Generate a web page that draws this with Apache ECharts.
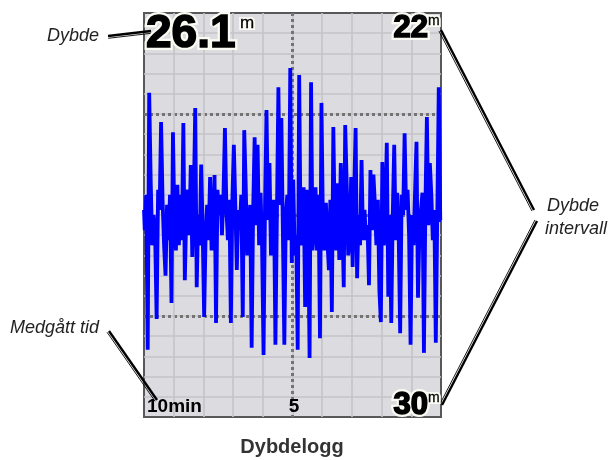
<!DOCTYPE html>
<html>
<head>
<meta charset="utf-8">
<title>Dybdelogg</title>
<script src="https://cdn.jsdelivr.net/npm/echarts@6/dist/echarts.min.js"></script>
<style>
  html, body { margin: 0; padding: 0; background: #ffffff; }
  #chart { width: 610px; height: 460px; }
</style>
</head>
<body>
<div id="chart"></div>
<script>
// Depth log samples (metres), oldest (10 min ago) on the left, newest on the right
const depthLog = [
  25.9, 26.3, 25.6, 28.67, 23.58, 25.3, 26.6, 26.0, 26.4, 28.06,
  25.5, 25.9, 24.16, 25.7, 26.6, 27.2, 25.8, 26.5, 25.6, 27.74,
  24.36, 26.2, 26.7, 25.4, 26.6, 25.6, 26.5, 24.18, 27.29, 25.9,
  25.5, 26.4, 25.01, 26.83, 25.7, 23.88, 27.43, 26.0, 26.6, 25.0,
  26.3, 28.02, 26.4, 25.8, 26.5, 25.25, 26.7, 26.2, 25.21, 28.14,
  25.5, 26.0, 25.6, 26.4, 25.6, 24.28, 25.9, 26.5, 25.7, 28.14,
  25.7, 24.61, 25.8, 27.09, 25.9, 26.3, 25.6, 28.02, 24.32, 25.41,
  26.8, 26.5, 25.8, 28.63, 25.9, 24.46, 26.2, 24.61, 26.6, 25.56,
  26.6, 28.77, 25.8, 23.92, 26.1, 24.97, 26.8, 26.4, 25.7, 28.57,
  26.0, 23.47, 25.8, 24.08, 26.3, 28.57, 26.0, 25.6, 26.5, 23.09,
  26.95, 25.3, 26.8, 26.4, 28.67, 23.23, 26.6, 25.9, 25.45, 27.82,
  25.5, 26.2, 28.83, 23.37, 26.7, 26.3, 25.45, 26.7, 25.6, 28.44,
  23.78, 26.2, 26.7, 25.76, 26.5, 27.09, 25.7, 27.92, 24.26, 26.3,
  26.7, 25.37, 26.89, 24.97, 26.0, 27.43, 24.22, 25.37, 26.8, 26.5,
  25.25, 27.03, 25.6, 24.28, 27.25, 26.0, 26.6, 24.91, 26.5, 25.9,
  26.5, 26.2, 27.39, 25.11, 26.3, 25.2, 25.8, 26.6, 25.7, 27.49,
  28.12, 24.95, 26.6, 26.0, 24.57, 27.62, 26.0, 28.14, 26.0, 24.61,
  26.5, 25.56, 26.4, 28.34, 25.6, 26.0, 24.38, 25.9, 25.5, 26.4,
  28.57, 26.0, 26.6, 25.56, 24.55, 27.64, 26.3, 25.9, 25.56, 28.73,
  25.8, 24.06, 26.2, 24.97, 25.6, 26.5, 25.9, 28.53, 26.0, 23.47,
  26.1
];
// Sample numbers along the time axis
const sampleNo = depthLog.map((_, i) => i);
// Displayed depth range (top, bottom) in metres
const depthRange = [22, 30];
// Elapsed-time axis: span in minutes and the labelled ticks
const timeSpan = [0, 10];
const timeTicks = { 10: '10min', 5: '5' };

const FONT = '"Liberation Sans", Arial, Helvetica, sans-serif';
const currentDepth = depthLog[depthLog.length - 1];

const chart = echarts.init(document.getElementById('chart'), null, { renderer: 'canvas' });

// Callout leader: a heavy stroke with a thin companion stroke just beside it
function leader(x1, y1, x2, y2) {
  const dx = x2 - x1, dy = y2 - y1, len = Math.hypot(dx, dy);
  // unit normal pointing to the lower-left side of the stroke
  let nx = -dy / len, ny = dx / len;
  if (ny < 0 || (ny === 0 && nx > 0)) { nx = -nx; ny = -ny; }
  if (nx > 0 && Math.abs(dy) > Math.abs(dx)) { nx = -nx; ny = -ny; }
  const off = 2.3;
  return [
    { type: 'line', z: 50, shape: { x1, y1, x2, y2 },
      style: { stroke: '#000', lineWidth: 2.4 } },
    { type: 'line', z: 50,
      shape: { x1: x1 + nx * off, y1: y1 + ny * off, x2: x2 + nx * off, y2: y2 + ny * off },
      style: { stroke: '#000', lineWidth: 0.9 } }
  ];
}

function label(text, x, y, size, opts, z) {
  return {
    type: 'text', z: z || 60, x, y,
    style: Object.assign({
      text, fontFamily: FONT, fontSize: size, fill: '#000',
      align: 'left', verticalAlign: 'middle'
    }, opts || {})
  };
}

// Heavy readout text: a pale halo underneath, then the glyphs thickened with their own stroke
function readout(text, x, y, size, align, heavy) {
  const base = { fontWeight: heavy ? 'bold' : 'normal', align: align || 'left' };
  return [
    label(text, x, y, size, Object.assign({ fill: '#fbfbf4', stroke: '#fbfbf4', lineWidth: heavy ? 6 : 4 }, base), 58),
    label(text, x, y, size, Object.assign({ fill: '#000', stroke: '#000', lineWidth: heavy ? 1.6 : 0.3 }, base), 60)
  ];
}

const option = {
  animation: false,
  backgroundColor: '#ffffff',
  grid: {
    left: 144, top: 13, right: 169, bottom: 43,
    show: true, backgroundColor: '#dcdbe0',
    borderColor: '#585858', borderWidth: 2
  },
  xAxis: [
    { type: 'category', data: sampleNo, boundaryGap: false, show: false },
    {
      type: 'value', min: timeSpan[0], max: timeSpan[1], interval: 1, inverse: true,
      position: 'bottom',
      axisLine: { show: false }, axisTick: { show: false },
      axisLabel: {
        inside: true, margin: 1, interval: 0,
        fontFamily: FONT, fontWeight: 'bold', fontSize: 19, color: '#000',
        padding: [0, 0, 0, 3],
        alignMinLabel: 'left', alignMaxLabel: 'left',
        formatter: v => timeTicks[v] || ''
      },
      splitLine: { show: true, showMinLine: false, showMaxLine: false,
        lineStyle: { color: '#c4c3c8', width: 1.6 } }
    },
    {
      type: 'value', min: timeSpan[0], max: timeSpan[1], interval: 5,
      axisLine: { show: false }, axisTick: { show: false }, axisLabel: { show: false },
      splitLine: { show: true, showMinLine: false, showMaxLine: false,
        lineStyle: { color: '#747474', width: 3, type: [3, 3] } }
    }
  ],
  yAxis: [
    {
      type: 'value', min: depthRange[0], max: depthRange[1], interval: 0.4, inverse: true,
      axisLine: { show: false }, axisTick: { show: false }, axisLabel: { show: false },
      splitLine: { show: true, showMinLine: false, showMaxLine: false,
        lineStyle: { color: '#c4c3c8', width: 1.6 } }
    },
    {
      type: 'value', min: depthRange[0], max: depthRange[1], interval: 2, inverse: true,
      axisLine: { show: false }, axisTick: { show: false }, axisLabel: { show: false },
      splitLine: { show: true, showMinLine: false, showMaxLine: false,
        lineStyle: { color: '#747474', width: 3, type: [3, 3] } }
    }
  ],
  series: [{
    type: 'line',
    xAxisIndex: 0, yAxisIndex: 0,
    data: depthLog,
    step: 'middle',
    symbol: 'none',
    lineStyle: { color: '#0000ff', width: 3.8, join: 'miter', cap: 'butt' },
    z: 5
  }],
  graphic: [
    // current depth, top-left
    ...readout(currentDepth.toFixed(1), 146, 34, 46, 'left', true),
    ...readout('m', 240, 23, 17, 'left', false),
    // depth range, right side
    ...readout(String(depthRange[0]), 428, 28, 31, 'right', true),
    ...readout('m', 428, 21, 14, 'left', false),
    ...readout(String(depthRange[1]), 428, 405, 31, 'right', true),
    ...readout('m', 428, 398, 14, 'left', false),
    // callouts
    label('Dybde', 47, 36, 18, { fontStyle: 'italic', fill: '#222' }),
    label('Medgått tid', 10, 328, 18, { fontStyle: 'italic', fill: '#222' }),
    label('Dybde', 547, 206, 18, { fontStyle: 'italic', fill: '#222' }),
    label('intervall', 545, 229, 18, { fontStyle: 'italic', fill: '#222' }),
    ...leader(108, 36, 151, 31),
    ...leader(109, 331, 157, 400),
    ...leader(441, 30, 534, 210),
    ...leader(442, 405, 537, 221),
    // caption
    label('Dybdelogg', 292, 447, 20, { align: 'center', fontWeight: 'bold', fill: '#333' })
  ]
};

chart.setOption(option);
</script>
</body>
</html>
